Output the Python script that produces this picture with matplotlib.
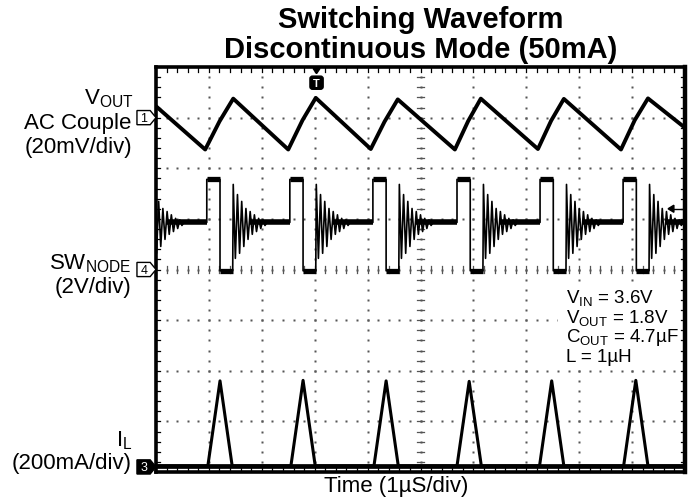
import matplotlib
matplotlib.use('Agg')
import matplotlib.pyplot as plt
from matplotlib.patches import Polygon, FancyBboxPatch, Rectangle

plt.rcParams['font.family'] = ['Liberation Sans', 'DejaVu Sans']
plt.rcParams['mathtext.fontset'] = 'custom'
plt.rcParams['mathtext.rm'] = 'Liberation Sans'
plt.rcParams['mathtext.it'] = 'Liberation Sans:italic'
plt.rcParams['mathtext.bf'] = 'Liberation Sans:bold'

# ---------------- data (time in us) ----------------
# scope settings
x_divs, y_divs = 10, 8
ch1_mV_per_div, ch1_ground = 20.0, 7.0     # VOUT AC couple
ch4_V_per_div, ch4_ground = 2.0, 4.0       # SW node
ch3_mA_per_div, ch3_ground = 200.0, 0.1    # inductor current

# VOUT ripple breakpoints
vout_t = [0.00, 0.93, 1.20, 1.46, 2.50, 2.77, 3.02, 4.06, 4.32, 4.57, 5.65, 5.90, 6.14,
          7.22, 7.47, 7.71, 8.79, 9.05, 9.30, 10.00]
vout_mV = [4.5, -12.6, -1.5, 7.5, -12.6, -1.0, 7.8, -12.4, -1.6, 7.2, -12.6, -1.4, 7.5,
           -12.4, -1.2, 7.4, -12.6, -1.0, 7.6, -4.0]

# SW node: switching pulse start times and levels
sw_pulse_t = [-0.61, 0.96, 2.53, 4.10, 5.69, 7.26, 8.83]
sw_high_V = 3.56
sw_low_V = -0.05
sw_rest_V = 1.86
sw_high_end = 0.25      # us after pulse start
sw_low_end = 0.49       # us after pulse start (ringing begins)
ring_dt = [0.01, 0.05, 0.09, 0.13, 0.17, 0.21, 0.25, 0.29, 0.33, 0.37, 0.41, 0.45, 0.49, 0.53, 0.57, 0.61]
ring_dev_V = [1.50, -1.42, 1.10, -1.22, 0.83, -0.95, 0.55, -0.67, 0.43, -0.47, 0.30, -0.36, 0.16, -0.24, 0.10, -0.12]

# inductor current triangles
il_peak_t = [1.21, 2.78, 4.35, 5.92, 7.48, 9.07]
il_peak_mA = [340, 342, 340, 338, 340, 342]
il_ramp_us = 0.23
il_base_mA = 4

# ---------------- figure ----------------
W, H = 696, 502
fig = plt.figure(figsize=(W / 100, H / 100), dpi=100)
L, R, T, B = 156, 685, 68, 473
ax = fig.add_axes([L / W, 1 - B / H, (R - L) / W, (B - T) / H])
ax.set_xlim(0, x_divs)
ax.set_ylim(0, y_divs)
ax.set_xticks([]); ax.set_yticks([])
for s in ax.spines.values():
    s.set_linewidth(2.6)
ax.spines['right'].set_linewidth(3.2)

gc = '#555555'
minor = [i * 0.2 for i in range(1, 5 * x_divs)]
minor_y = [i * 0.2 for i in range(1, 5 * y_divs)]
# dotted graticule
for xm in range(1, x_divs):
    ax.plot([xm] * len(minor_y), minor_y, ls='none', marker='s', ms=1.5, color=gc, mec='none')
for ym in range(1, y_divs):
    ax.plot(minor, [ym] * len(minor), ls='none', marker='s', ms=1.5, color=gc, mec='none')
# centre cross ticks
for v in minor:
    ax.plot([v, v], [4 - 0.07, 4 + 0.07], color=gc, lw=0.9)
for v in minor_y:
    ax.plot([5 - 0.06, 5 + 0.06], [v, v], color=gc, lw=0.9)
# edge ticks
for v in minor:
    ax.plot([v, v], [8, 8 - 0.09], color='k', lw=0.9)
    ax.plot([v, v], [0, 0.09], color='k', lw=0.9)
for v in minor_y:
    ax.plot([0, 0.08], [v, v], color='k', lw=0.9)
    ax.plot([10, 10 - 0.08], [v, v], color='k', lw=0.9)

# white panel behind the conditions text
ax.add_patch(Rectangle((7.6, 2.12), 2.3, 1.62, fc='white', ec='none', zorder=3))

# ---- VOUT trace ----
ax.plot(vout_t, [ch1_ground + v / ch1_mV_per_div for v in vout_mV], color='k', lw=2.8,
        solid_joinstyle='round')

# ---- SW trace ----
def swd(v):
    return ch4_ground + v / ch4_V_per_div

sw_x, sw_y = [], []
for i, ts in enumerate(sw_pulse_t):
    sw_x += [ts, ts, ts + sw_high_end, ts + sw_high_end, ts + sw_low_end]
    sw_y += [swd(sw_rest_V), swd(sw_high_V), swd(sw_high_V), swd(sw_low_V), swd(sw_low_V)]
    for dt, dv in zip(ring_dt, ring_dev_V):
        sw_x.append(ts + sw_low_end + dt)
        sw_y.append(swd(sw_rest_V + dv))
    end = sw_pulse_t[i + 1] if i + 1 < len(sw_pulse_t) else x_divs + 0.5
    sw_x += [ts + sw_low_end + ring_dt[-1] + 0.04, end]
    sw_y += [swd(sw_rest_V), swd(sw_rest_V)]
ax.plot(sw_x, sw_y, color='k', lw=1.2)
# thick (noisy) flat levels
for i, ts in enumerate(sw_pulse_t):
    ax.plot([ts, ts + sw_high_end], [swd(sw_high_V)] * 2, color='k', lw=3.8, solid_capstyle='butt')
    ax.plot([ts + sw_high_end, ts + sw_low_end], [swd(sw_low_V)] * 2, color='k', lw=3.8, solid_capstyle='butt')
    end = sw_pulse_t[i + 1] if i + 1 < len(sw_pulse_t) else x_divs + 0.5
    ax.plot([ts + sw_low_end + 0.3, end], [swd(sw_rest_V)] * 2, color='k', lw=4.0, solid_capstyle='butt')

# ---- IL trace ----
il_x, il_y = [0.0], [ch3_ground + il_base_mA / ch3_mA_per_div]
for tp, ip in zip(il_peak_t, il_peak_mA):
    il_x += [tp - il_ramp_us, tp, tp + il_ramp_us]
    il_y += [ch3_ground + il_base_mA / ch3_mA_per_div, ch3_ground + ip / ch3_mA_per_div,
             ch3_ground + il_base_mA / ch3_mA_per_div]
il_x.append(x_divs)
il_y.append(ch3_ground + il_base_mA / ch3_mA_per_div)
ax.plot(il_x, il_y, color='k', lw=2.2)
ax.plot([0, x_divs], [ch3_ground + il_base_mA / ch3_mA_per_div] * 2, color='k', lw=3.4)

# ---- channel markers ----
def marker(yc, label, filled=False):
    pts = [(-0.36, yc - 0.14), (-0.11, yc - 0.14), (0.0, yc), (-0.11, yc + 0.14), (-0.36, yc + 0.14)]
    ax.add_patch(Polygon(pts, closed=True, fc='k' if filled else 'white', ec='k', lw=1.0,
                         clip_on=False, zorder=5))
    ax.text(-0.23, yc, label, ha='center', va='center', fontsize=9,
            color='white' if filled else 'k', clip_on=False, zorder=6)

marker(ch1_ground, '1')
marker(ch4_ground, '4')
marker(ch3_ground, '3', filled=True)

# trigger position marker
ax.add_patch(FancyBboxPatch((2.93, 7.58), 0.21, 0.22, boxstyle='round,pad=0.02,rounding_size=0.05',
                            fc='k', ec='k', clip_on=False, zorder=6))
ax.text(3.035, 7.69, 'T', ha='center', va='center', color='white', fontsize=8, fontweight='bold', zorder=7)
ax.add_patch(Polygon([(2.97, 7.97), (3.10, 7.97), (3.035, 7.87)], closed=True, fc='k', ec='k',
                     clip_on=False, zorder=6))
# trigger level marker
ax.add_patch(Polygon([(9.68, 5.2), (9.79, 5.27), (9.79, 5.13)], closed=True, fc='k', ec='k', zorder=6))
ax.plot([9.79, 9.95], [5.2, 5.2], color='k', lw=1.0)

# ---------------- texts ----------------
def ftext(x, y, s, **kw):
    fig.text(x / W, 1 - y / H, s, **kw)

ftext(421, 20, 'Switching Waveform', ha='center', va='center', fontsize=21, fontweight='bold')
ftext(421, 50, 'Discontinuous Mode (50mA)', ha='center', va='center', fontsize=21, fontweight='bold')

ftext(134, 99, r'V$_\mathrm{OUT}$', ha='right', va='center', fontsize=16)
ftext(131, 123, 'AC Couple', ha='right', va='center', fontsize=16)
ftext(132, 148, '(20mV/div)', ha='right', va='center', fontsize=16)

ftext(131, 264, r'SW$_\mathrm{NODE}$', ha='right', va='center', fontsize=16)
ftext(131, 288, '(2V/div)', ha='right', va='center', fontsize=16)

ftext(132, 441, r'I$_\mathrm{L}$', ha='right', va='center', fontsize=16)
ftext(132, 464, '(200mA/div)', ha='right', va='center', fontsize=16)

ftext(566, 298, r'V$_\mathrm{IN}$ = 3.6V', ha='left', va='center', fontsize=13.5, zorder=10)
ftext(566, 318, r'V$_\mathrm{OUT}$ = 1.8V', ha='left', va='center', fontsize=13.5, zorder=10)
ftext(566, 338, r'C$_\mathrm{OUT}$ = 4.7µF', ha='left', va='center', fontsize=13.5, zorder=10)
ftext(566, 357, 'L = 1µH', ha='left', va='center', fontsize=13.5, zorder=10)

ftext(396, 487, 'Time (1µS/div)', ha='center', va='center', fontsize=16)

fig.savefig('out.png', dpi=100)
